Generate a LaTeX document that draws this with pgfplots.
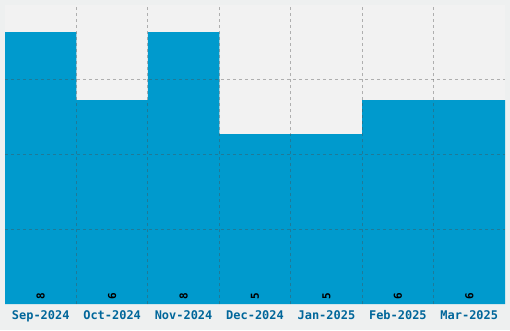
\documentclass[border=0pt]{standalone}
\usepackage{pgfplots}
\pgfplotsset{compat=1.18}
\usepackage{fontspec}
\setmainfont{DejaVu Sans Mono}
\definecolor{barc}{HTML}{009ACD}
\definecolor{outbg}{HTML}{EEF0F0}
\definecolor{inbg}{HTML}{F2F2F2}
\definecolor{lab}{HTML}{00669A}
\begin{document}
\begin{tikzpicture}[x=1bp,y=1bp]
\fill[outbg] (-5,-26) rectangle (505,304);
\useasboundingbox (-5,-26) rectangle (505,304);
\begin{axis}[
  at={(0,0)}, anchor=south west,
  scale only axis, width=500bp, height=299bp,
  xmin=-0.5, xmax=6.5, ymin=0, ymax=8.8,
  axis background/.style={fill=inbg},
  axis line style={draw=none},
  axis on top,
  xtick={0,...,6},
  xticklabels={Sep-2024,Oct-2024,Nov-2024,Dec-2024,Jan-2025,Feb-2025,Mar-2025},
  minor xtick={0.5,1.5,...,5.5},
  ytick={2.2,4.4,6.6},
  yticklabels={},
  xmajorgrids=false,
  xminorgrids=true, ymajorgrids=true,
  grid style={dashed, dash pattern=on 3bp off 3bp, draw=black!70, opacity=0.4, line width=0.8pt},
  minor grid style={dashed, dash pattern=on 3bp off 3bp, draw=black!70, opacity=0.4, line width=0.8pt},
  major tick length=0pt, minor tick length=0pt,
  xticklabel style={font=\fontsize{12}{14}\selectfont\bfseries, text=lab, text height=9bp, text depth=2.5bp, yshift=-2.5bp},
]
\addplot[ybar, bar width=500bp/7, bar shift=0pt, fill=barc, draw=none] coordinates {(0,8) (1,6) (2,8) (3,5) (4,5) (5,6) (6,6)};
\addplot[only marks, mark=none, point meta=explicit symbolic, nodes near coords,
  nodes near coords style={yshift=8bp, rotate=90, font=\fontsize{11}{12}\selectfont\bfseries, text=black, anchor=center}]
  coordinates {(0,0)[8] (1,0)[6] (2,0)[8] (3,0)[5] (4,0)[5] (5,0)[6] (6,0)[6]};
\end{axis}
\end{tikzpicture}
\end{document}
